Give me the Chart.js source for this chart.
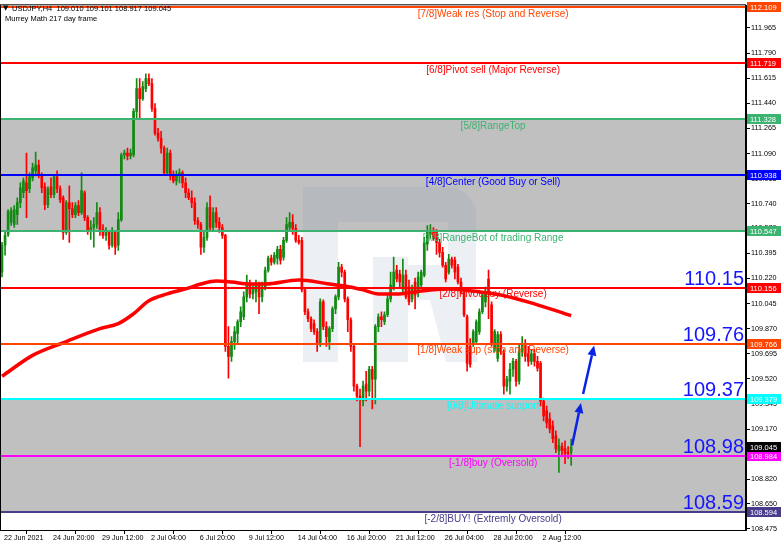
<!DOCTYPE html>
<html>
<head>
<meta charset="utf-8">
<script src="https://cdn.jsdelivr.net/npm/chart.js@4.4.1/dist/chart.umd.min.js"></script>
<style>
  html, body { margin: 0; padding: 0; background: #fff; }
  #wrap { width: 782px; height: 549px; }
</style>
</head>
<body>
<div id="wrap"><canvas id="chart" width="782" height="549"></canvas></div>
<script>
// USDJPY H4 with Murrey Math levels

// H4 candles, bar 0 = 22 Jun 2021
const opens = [
  110.264, 110.451, 110.527, 110.610, 110.596, 110.665, 110.748, 110.817, 110.886, 110.845,
  110.921, 110.969, 111.010, 110.941, 110.858, 110.734, 110.858, 110.803, 110.928, 110.845,
  110.782, 110.541, 110.748, 110.706, 110.665, 110.727, 110.679, 110.817, 110.644, 110.554,
  110.575, 110.596, 110.679, 110.561, 110.520, 110.541, 110.451, 110.541, 110.451, 110.630,
  111.080, 111.093, 111.073, 111.080, 111.384, 111.543, 111.473, 111.543, 111.612, 111.577,
  111.404, 111.232, 111.197, 111.128, 110.955, 111.093, 110.934, 110.900, 110.941, 110.955,
  110.886, 110.817, 110.782, 110.748, 110.623, 110.596, 110.437, 110.506, 110.713, 110.575,
  110.679, 110.610, 110.575, 110.520, 109.746, 109.677, 109.780, 109.836, 109.918, 109.953,
  110.091, 110.181, 110.112, 110.126, 110.181, 110.091, 110.160, 110.278, 110.361, 110.333,
  110.361, 110.423, 110.368, 110.485, 110.575, 110.610, 110.568, 110.485, 110.485, 110.140,
  109.988, 109.939, 109.905, 109.849, 109.760, 110.057, 109.884, 109.780, 109.870, 110.008,
  110.091, 110.299, 110.264, 110.077, 109.932, 109.746, 109.469, 109.400, 109.366, 109.483,
  109.435, 109.587, 109.518, 109.884, 109.953, 109.918, 109.967, 110.077, 110.160, 110.278,
  110.250, 110.147, 110.243, 110.160, 110.077, 110.195, 110.126, 110.174, 110.243, 110.458,
  110.527, 110.554, 110.541, 110.471, 110.402, 110.312, 110.264, 110.354, 110.347, 110.299,
  110.195, 110.126, 109.953, 109.746, 109.760, 109.780, 109.849, 109.988, 110.057, 110.216,
  110.036, 109.732, 109.663, 109.829, 109.711, 109.469, 109.504, 109.587, 109.642, 109.504,
  109.711, 109.760, 109.697, 109.642, 109.697, 109.642, 109.628, 109.366, 109.297, 109.241,
  109.193, 109.124, 109.020, 109.048, 109.034, 109.006, 109.010
];
const highs = [
  110.471, 110.541, 110.699, 110.713, 110.727, 110.782, 110.886, 110.921, 111.093, 110.955,
  111.024, 111.100, 111.045, 110.955, 110.886, 110.858, 110.921, 110.941, 110.969, 110.865,
  110.796, 110.762, 110.865, 110.748, 110.748, 110.762, 110.955, 110.831, 110.658, 110.623,
  110.644, 110.748, 110.713, 110.596, 110.575, 110.554, 110.575, 110.554, 110.679, 111.093,
  111.114, 111.128, 111.121, 111.404, 111.612, 111.612, 111.591, 111.646, 111.646, 111.612,
  111.439, 111.266, 111.245, 111.142, 111.128, 111.114, 110.969, 110.969, 110.983, 110.969,
  110.921, 110.845, 110.831, 110.782, 110.644, 110.610, 110.541, 110.748, 110.796, 110.713,
  110.713, 110.644, 110.596, 110.527, 109.884, 109.815, 109.884, 109.932, 110.022, 110.126,
  110.243, 110.209, 110.174, 110.209, 110.195, 110.195, 110.299, 110.375, 110.382, 110.402,
  110.444, 110.451, 110.506, 110.644, 110.679, 110.665, 110.596, 110.520, 110.506, 110.153,
  110.008, 109.953, 109.932, 109.870, 110.077, 110.071, 109.918, 109.884, 110.022, 110.105,
  110.333, 110.319, 110.278, 110.091, 109.946, 109.760, 109.483, 109.449, 109.504, 109.573,
  109.608, 109.608, 109.898, 109.974, 109.988, 109.988, 110.105, 110.264, 110.368, 110.312,
  110.278, 110.354, 110.278, 110.209, 110.174, 110.223, 110.264, 110.278, 110.506, 110.589,
  110.596, 110.575, 110.561, 110.492, 110.437, 110.333, 110.388, 110.368, 110.368, 110.319,
  110.223, 110.140, 109.967, 109.801, 109.863, 109.932, 110.008, 110.126, 110.160, 110.278,
  110.057, 109.863, 109.849, 109.849, 109.725, 109.538, 109.628, 109.663, 109.656, 109.760,
  109.815, 109.794, 109.746, 109.725, 109.725, 109.677, 109.642, 109.386, 109.331, 109.283,
  109.227, 109.158, 109.103, 109.075, 109.089, 109.048, 109.101
];
const lows = [
  110.230, 110.382, 110.513, 110.589, 110.575, 110.596, 110.713, 110.782, 110.644, 110.817,
  110.900, 110.934, 110.921, 110.817, 110.699, 110.713, 110.782, 110.782, 110.817, 110.748,
  110.492, 110.527, 110.471, 110.644, 110.644, 110.658, 110.665, 110.623, 110.527, 110.492,
  110.437, 110.568, 110.520, 110.499, 110.485, 110.423, 110.437, 110.388, 110.416, 110.617,
  111.052, 111.045, 111.052, 111.066, 111.335, 111.335, 111.460, 111.522, 111.563, 111.384,
  111.218, 111.176, 111.093, 110.941, 110.941, 110.907, 110.886, 110.872, 110.886, 110.852,
  110.782, 110.769, 110.713, 110.596, 110.568, 110.388, 110.402, 110.485, 110.554, 110.554,
  110.575, 110.541, 110.499, 109.711, 109.525, 109.642, 109.725, 109.766, 109.884, 109.932,
  110.057, 110.084, 110.077, 110.057, 109.974, 110.057, 110.140, 110.264, 110.312, 110.319,
  110.319, 110.319, 110.347, 110.471, 110.554, 110.527, 110.471, 110.458, 110.126, 109.967,
  109.918, 109.849, 109.829, 109.711, 109.746, 109.863, 109.746, 109.725, 109.849, 109.974,
  110.071, 110.230, 110.057, 109.849, 109.711, 109.435, 109.366, 109.048, 109.331, 109.366,
  109.400, 109.310, 109.345, 109.849, 109.884, 109.898, 109.953, 110.057, 110.140, 110.195,
  110.160, 110.126, 110.077, 110.036, 110.057, 110.008, 110.091, 110.160, 110.230, 110.416,
  110.499, 110.485, 110.388, 110.368, 110.299, 110.195, 110.250, 110.292, 110.216, 110.181,
  110.112, 109.953, 109.573, 109.601, 109.746, 109.766, 109.829, 109.974, 110.022, 109.939,
  109.746, 109.711, 109.642, 109.690, 109.414, 109.435, 109.414, 109.538, 109.469, 109.483,
  109.677, 109.642, 109.608, 109.621, 109.608, 109.573, 109.331, 109.227, 109.179, 109.144,
  109.075, 109.006, 108.868, 108.986, 108.930, 108.965, 108.917
];
const closes = [
  110.451, 110.520, 110.686, 110.693, 110.699, 110.748, 110.852, 110.900, 110.831, 110.928,
  110.990, 111.010, 110.941, 110.852, 110.734, 110.845, 110.803, 110.928, 110.845, 110.769,
  110.541, 110.748, 110.706, 110.665, 110.727, 110.679, 110.831, 110.644, 110.554, 110.575,
  110.596, 110.679, 110.561, 110.520, 110.554, 110.451, 110.554, 110.437, 110.630, 111.080,
  111.093, 111.073, 111.093, 111.384, 111.543, 111.473, 111.556, 111.612, 111.577, 111.404,
  111.232, 111.197, 111.128, 110.955, 111.093, 110.934, 110.900, 110.941, 110.955, 110.886,
  110.817, 110.782, 110.748, 110.623, 110.596, 110.437, 110.506, 110.713, 110.575, 110.679,
  110.610, 110.575, 110.520, 109.746, 109.677, 109.780, 109.849, 109.918, 109.988, 110.091,
  110.195, 110.112, 110.147, 110.181, 110.091, 110.160, 110.278, 110.361, 110.333, 110.382,
  110.423, 110.347, 110.485, 110.596, 110.610, 110.568, 110.485, 110.471, 110.140, 109.988,
  109.939, 109.870, 109.849, 109.760, 110.057, 109.884, 109.815, 109.870, 110.008, 110.091,
  110.299, 110.264, 110.077, 109.932, 109.746, 109.469, 109.400, 109.379, 109.469, 109.435,
  109.587, 109.518, 109.884, 109.953, 109.932, 109.967, 110.077, 110.174, 110.264, 110.216,
  110.195, 110.243, 110.091, 110.057, 110.147, 110.105, 110.230, 110.264, 110.471, 110.541,
  110.554, 110.499, 110.471, 110.402, 110.312, 110.216, 110.354, 110.312, 110.264, 110.195,
  110.126, 109.967, 109.628, 109.621, 109.849, 109.918, 109.988, 110.105, 110.126, 110.126,
  109.760, 109.849, 109.829, 109.711, 109.469, 109.518, 109.587, 109.642, 109.504, 109.711,
  109.760, 109.677, 109.642, 109.697, 109.642, 109.594, 109.366, 109.262, 109.214, 109.172,
  109.103, 109.034, 109.055, 109.020, 108.999, 108.999, 109.045
];

// moving average, read at some bars
const maBars = [0, 10, 21, 32, 38, 43, 48, 54, 60, 65, 70, 75, 81, 86, 97, 107, 112, 118, 123, 129, 135, 140, 146, 151, 156, 163, 174, 186];
const maValues = [109.538, 109.684, 109.780, 109.870, 109.905, 109.974, 110.064, 110.112, 110.147, 110.181, 110.202, 110.195, 110.181, 110.181, 110.209, 110.181, 110.167, 110.140, 110.112, 110.112, 110.126, 110.140, 110.147, 110.140, 110.126, 110.105, 110.043, 109.960];

// Murrey Math levels
const levelValues = [112.109, 111.719, 111.328, 110.938, 110.547, 110.156, 109.766, 109.379, 108.984, 108.594];
const levelNames = [
  '[7/8]Weak res (Stop and Reverse)',
  '[6/8]Pivot sell (Major Reverse)',
  '[5/8]RangeTop',
  '[4/8]Center (Good Buy or Sell)',
  '[3/8]RangeBot of trading Range',
  '[2/8]Pivot buy (Reverse)',
  '[1/8]Weak sup (stop and Reverse)',
  '[0/8]Ultimate support',
  '[-1/8]buy (Oversold)',
  '[-2/8]BUY! (Extremly Oversold)'
];
const levelColors = ['#ff4500', '#ff0000', '#3cb371', '#0000ff', '#3cb371', '#ff0000', '#ff4500', '#00ffff', '#ff00ff', '#483d8b'];
const bandTops = [111.328, 109.379];
const bandBottoms = [110.547, 108.594];

// big round labels on the right
const bigLabels = ['110.15', '109.76', '109.37', '108.98', '108.59'];
const bigLabelLevels = [110.156, 109.766, 109.379, 108.984, 108.594];

// arrows (bar, price)
const arrowFrom = [[186.3, 109.055], [189.9, 109.414]];
const arrowTo = [[189.2, 109.352], [193.5, 109.753]];

// axes
const xTickBars = [0, 16, 32, 48, 64, 80, 96, 112, 128, 144, 160, 176];
const xTickLabels = ['22 Jun 2021', '24 Jun 20:00', '29 Jun 12:00', '2 Jul 04:00', '6 Jul 20:00', '9 Jul 12:00',
  '14 Jul 04:00', '16 Jul 20:00', '21 Jul 12:00', '26 Jul 04:00', '28 Jul 20:00', '2 Aug 12:00'];
const yTickValues = [111.965, 111.790, 111.615, 111.440, 111.265, 111.090, 110.915, 110.740, 110.570, 110.395,
  110.220, 110.045, 109.870, 109.695, 109.520, 109.345, 109.170, 108.995, 108.820, 108.650, 108.475];

const FONT = "'Liberation Sans', Arial, sans-serif";
const UP = '#138a13';
const DOWN = '#ff0000';
const last = closes.length - 1;

const candleColor = (c) => closes[c.dataIndex] >= opens[c.dataIndex] ? UP : DOWN;

function drawArrow(ctx, x1, y1, x2, y2) {
  const ang = Math.atan2(y2 - y1, x2 - x1);
  const len = 10, w = 4.5;
  const bx = x2 - len * Math.cos(ang), by = y2 - len * Math.sin(ang);
  ctx.beginPath();
  ctx.moveTo(x1, y1);
  ctx.lineTo(bx, by);
  ctx.stroke();
  ctx.beginPath();
  ctx.moveTo(x2, y2);
  ctx.lineTo(bx + w * Math.sin(ang), by - w * Math.cos(ang));
  ctx.lineTo(bx - w * Math.sin(ang), by + w * Math.cos(ang));
  ctx.closePath();
  ctx.fill();
}

const murreyPlugin = {
  id: 'murrey',
  beforeDatasetsDraw(chart) {
    const { ctx, chartArea: a, scales: { y } } = chart;
    ctx.save();
    ctx.beginPath();
    ctx.rect(a.left, a.top, a.right - a.left, a.bottom - a.top);
    ctx.clip();
    // grey ranges
    ctx.fillStyle = '#c0c0c0';
    bandTops.forEach((top, k) => {
      const y1 = y.getPixelForValue(top), y2 = y.getPixelForValue(bandBottoms[k]);
      ctx.fillRect(a.left, y1, a.right - a.left, y2 - y1);
    });
    // broker logo watermark
    ctx.fillStyle = 'rgba(120, 140, 180, 0.14)';
    ctx.beginPath();
    ctx.rect(303, 187, 35, 175);
    ctx.rect(338, 187, 110, 35);
    ctx.moveTo(448, 187);
    ctx.arcTo(476, 187, 476, 215, 28);
    ctx.lineTo(476, 300);
    ctx.lineTo(448, 300);
    ctx.lineTo(448, 187);
    ctx.closePath();
    ctx.rect(373, 257, 35, 105);
    ctx.rect(408, 265, 40, 35);
    ctx.moveTo(430, 300);
    ctx.lineTo(462, 300);
    ctx.lineTo(478, 362);
    ctx.lineTo(446, 362);
    ctx.closePath();
    ctx.fill('nonzero');
    ctx.restore();
  },
  afterDatasetsDraw(chart) {
    const { ctx, chartArea: a, scales: { x, y } } = chart;
    ctx.save();
    ctx.beginPath();
    ctx.rect(a.left, a.top, a.right - a.left, a.bottom - a.top);
    ctx.clip();
    // level lines
    levelValues.forEach((v, k) => {
      const py = Math.round(y.getPixelForValue(v));
      ctx.strokeStyle = levelColors[k];
      ctx.lineWidth = 2;
      ctx.beginPath();
      ctx.moveTo(a.left, py);
      ctx.lineTo(a.right, py);
      ctx.stroke();
    });
    // level names
    const cx = x.getPixelForValue(160.5);
    ctx.font = '10px ' + FONT;
    ctx.textAlign = 'center';
    ctx.textBaseline = 'top';
    levelValues.forEach((v, k) => {
      ctx.fillStyle = levelColors[k];
      ctx.fillText(levelNames[k], cx, y.getPixelForValue(v) + 2);
    });
    // big labels
    ctx.font = '20px ' + FONT;
    ctx.textAlign = 'right';
    ctx.textBaseline = 'alphabetic';
    ctx.fillStyle = '#1515ff';
    bigLabels.forEach((t, k) => {
      ctx.fillText(t, a.right - 2, y.getPixelForValue(bigLabelLevels[k]) - 3);
    });
    // arrows
    ctx.strokeStyle = '#0a22e6';
    ctx.fillStyle = '#0a22e6';
    ctx.lineWidth = 2.5;
    arrowFrom.forEach((p, k) => {
      const q = arrowTo[k];
      drawArrow(ctx, x.getPixelForValue(p[0]), y.getPixelForValue(p[1]),
        x.getPixelForValue(q[0]), y.getPixelForValue(q[1]));
    });
    ctx.restore();
  },
  afterDraw(chart) {
    const { ctx, chartArea: a, scales: { y } } = chart;
    ctx.save();
    // frame
    ctx.strokeStyle = '#000';
    ctx.lineWidth = 1;
    ctx.strokeRect(a.left - 0.5, a.top - 0.5, a.right - a.left, a.bottom - a.top + 1);
    // price boxes
    const boxes = levelValues.map((v, k) => [v, levelColors[k]]);
    boxes.push([closes[last], '#000']);
    ctx.font = '7.5px ' + FONT;
    ctx.textAlign = 'left';
    ctx.textBaseline = 'middle';
    boxes.forEach(([v, col]) => {
      const py = Math.round(y.getPixelForValue(v));
      ctx.fillStyle = col;
      ctx.fillRect(a.right + 1, py - 5, 34, 10);
      ctx.fillStyle = '#fff';
      ctx.fillText(v.toFixed(3), a.right + 4, py + 0.5);
    });
    // header
    ctx.fillStyle = '#000';
    ctx.font = '7px DejaVu Sans';
    ctx.textBaseline = 'alphabetic';
    ctx.fillText('\u25BC', 3, 10);
    ctx.font = '7.5px ' + FONT;
    ctx.fillText('USDJPY,H4  ' + [opens[last], highs[last], lows[last], closes[last]].map(v => v.toFixed(3)).join(' '), 12, 11);
    ctx.fillText('Murrey Math 217 day frame', 5, 21);
    ctx.restore();
  }
};

const ctx = document.getElementById('chart').getContext('2d');
new Chart(ctx, {
  type: 'bar',
  data: {
    datasets: [
      {
        type: 'line',
        data: maBars.map((b, k) => ({ x: b, y: maValues[k] })),
        borderColor: '#ff0000',
        borderWidth: 3.5,
        pointRadius: 0,
        cubicInterpolationMode: 'monotone',
        order: 0
      },
      {
        data: opens.map((o, i) => ({ x: i, y: [o, closes[i]] })),
        backgroundColor: candleColor,
        barThickness: 2,
        minBarLength: 1,
        grouped: false,
        order: 1
      },
      {
        data: lows.map((l, i) => ({ x: i, y: [l, highs[i]] })),
        backgroundColor: candleColor,
        barThickness: 1,
        grouped: false,
        order: 2
      }
    ]
  },
  options: {
    responsive: false,
    animation: false,
    layout: { padding: { left: 1, top: 1, right: 0, bottom: 0 } },
    plugins: { legend: { display: false }, tooltip: { enabled: false } },
    scales: {
      x: {
        type: 'linear',
        min: -0.327,
        max: 243.14,
        offset: false,
        afterBuildTicks: (s) => { s.ticks = xTickBars.map(v => ({ value: v })); },
        afterFit: (s) => { s.height = 19; },
        ticks: {
          callback: (v, i) => xTickLabels[i],
          align: 'start',
          labelOffset: 2,
          maxRotation: 0,
          autoSkip: false,
          padding: 0,
          color: '#000',
          font: { family: FONT, size: 7.2 }
        },
        grid: { drawOnChartArea: false, tickLength: 4, color: '#000' },
        border: { color: '#000' }
      },
      y: {
        position: 'right',
        min: 108.467,
        max: 112.123,
        afterBuildTicks: (s) => { s.ticks = yTickValues.map(v => ({ value: v })); },
        afterFit: (s) => { s.width = 36; },
        ticks: {
          callback: (v) => v.toFixed(3),
          padding: 1,
          color: '#000',
          font: { family: FONT, size: 7.2 }
        },
        grid: { drawOnChartArea: false, tickLength: 4, color: '#000' },
        border: { color: '#000' }
      }
    }
  },
  plugins: [murreyPlugin]
});
</script>
</body>
</html>
